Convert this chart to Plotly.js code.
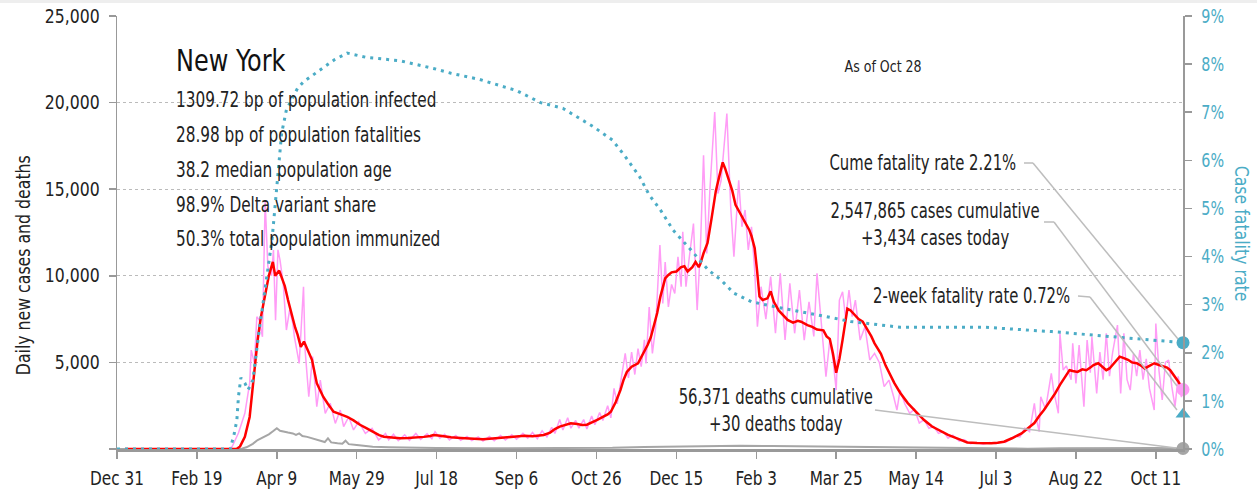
<!DOCTYPE html>
<html>
<head>
<meta charset="utf-8">
<script src="https://cdn.plot.ly/plotly-3.0.1.min.js"></script>
<style>
  html, body { margin: 0; padding: 0; background: #fff; }
  #chart { width: 1257px; height: 491px; }
</style>
</head>
<body>
<div id="chart"></div>
<script>
// Day offsets are counted from Dec 31, 2019 (day 0) to Oct 28, 2021 (day 667)
const tickDays = [0, 50, 100, 150, 200, 250, 300, 350, 400, 450, 500, 550, 600, 650];
const tickLabels = ["Dec 31", "Feb 19", "Apr 9", "May 29", "Jul 18", "Sep 6", "Oct 26", "Dec 15", "Feb 3", "Mar 25", "May 14", "Jul 3", "Aug 22", "Oct 11"];

const leftTickVals = [0, 5000, 10000, 15000, 20000, 25000];
const leftTickText = ["", "5,000", "10,000", "15,000", "20,000", "25,000"];
const rightTickVals = [0, 1, 2, 3, 4, 5, 6, 7, 8, 9];
const rightTickText = ["0%", "1%", "2%", "3%", "4%", "5%", "6%", "7%", "8%", "9%"];

// 7-day average of new cases (red)
const avgDays = [0,5,70,75,77,80,83,86,88,90,92,95,97.5,99,101.5,103,105,107,109.5,111.5,113,115,117,119,122,125,127,129,132,135.5,140,144,148,152,156,160,164,167,172,177,182,187,192,196,198,201,205,209,215,222,229,235,240,245,250,255,260,264,267,271,274,277,281,284,288,291,294,297,300.5,304,307,309,312,315,317,319,322,326,328,330,332,334,336,338,340,343,345,347,350,353,355,357,360,362,364,365,367,369.5,372,374.7,377,379,380.5,382,385,387,390,393,395.6,397,399,400.5,402,404,407,409,411,414,417,419.6,423,426,428,432,435,438,442,444,446,448,450,452,454,456,457,459,461,464,466.6,469,472,474,478,481,484,486.4,490,494.8,500,505,510,515,520,526,532,538,543,547,551,555,560,566,570,574,577,580,584,587,590,592,594,596,598,601,604,606.5,609,611,614,617,619,621,623,625,627.4,630,632.6,635,638,641,643,646,649,652,655,657,659,662,664,667];
const avgCases = [null,0,0,20,150,700,1850,4500,6300,7600,8600,10000,10800,10000,10300,9900,9400,8600,7650,7000,6600,5900,6200,5800,5150,3800,3400,3020,2600,2150,2000,1860,1650,1400,1210,1000,800,710,650,620,640,660,700,750,810,780,720,680,640,600,560,600,640,680,720,760,740,780,810,950,1150,1290,1400,1480,1440,1390,1400,1550,1680,1850,2000,2150,2700,3400,4000,4450,4750,4950,5300,5700,6000,6450,7100,7850,8800,9850,10050,10200,10250,10500,10550,10250,10500,10800,10500,10700,11300,11900,13300,14900,15800,16550,16200,15800,14900,14100,13600,13100,12650,12300,11600,10300,8800,8600,8700,9100,8500,8000,7700,7450,7300,7400,7350,7150,7050,6900,6850,6500,6350,5500,4400,5200,6300,7500,8100,8000,7800,7500,7350,7000,6500,6100,5500,4800,4200,3800,3250,2650,2150,1670,1300,1050,810,600,380,340,320,330,360,420,620,900,1200,1500,1900,2250,2800,3210,3700,3980,4300,4550,4500,4450,4600,4550,4700,4850,4950,4700,4550,4650,4850,5100,5330,5250,5150,5000,4950,4800,4650,4800,4950,4850,4750,4700,4550,4200,3900,3450];

// Daily new cases (pink)
const dailyDays = [0,60,66,70,72,74,76,80,83,84,86,87.5,89,91,92.7,94.4,96.7,97.9,99.2,100.7,102,104,106,108,110,111,114,116.7,117.7,120,122.4,125,127.2,130.3,133.4,136.6,139.7,141.8,145,148,151.2,155.4,159.6,163.7,168,170,173,176,180,183,187,190,194,197,199,202,205,208,212,215,219,222,226,229,233,236,240,243,247,250,254,257,260,263,266,269,272,274,277,279,282,284,287,289,292,294,297,299,302,304,307,309,311,313,316,318,320,322,324,326,328,330,331,333,335,337,339.7,341.5,343,345,347,349,351,353,354,356,358,360.7,363,365,367,369,371,374,376,378,381.6,384,386,389,391,393,395,397,399,400.7,403,406,409,412,415,418,421,424,427,430,433,436,438,441,443.6,446,448,450,452,454,456,458,460,462,465,468,471,474,477,480,483,486,488,490,493,496,499,502,505,508,511,514,517,520,523,527,530,534,538,542,546,550,553,556,559,562,565,568,571,574,575,577,578,581,583,584.6,586,589,590,592,594,597,598,600,602,605,607,609,610,613,615,617,619,621,623,626,628,630,632,634,636,638,640,642,644,646,649,650,652,654,656,658,660,662,664,666,667];
const dailyCases = [0,0,5,20,130,500,920,2060,3790,5710,4940,7640,7440,6480,14300,10520,10000,11490,7440,11500,10900,9560,6870,8020,7250,6480,4940,9370,5710,3020,5330,2440,3980,2060,2640,1480,2250,1290,1860,1100,1575,905,1190,520,900,520,850,480,820,500,900,550,880,600,1000,620,850,520,780,500,720,480,700,460,720,480,780,520,820,560,900,620,950,600,1050,700,1250,900,1700,1100,1800,1200,1650,1200,1700,1150,1900,1400,2100,1650,2500,1800,3500,2600,4400,5520,4100,5600,4300,5800,4750,6300,4940,8200,5520,7000,11770,8400,10800,8200,9500,8980,11100,9370,12540,9370,11000,13020,8020,11500,16960,11290,15000,19460,14750,15500,19370,13980,11100,15520,12830,13800,11490,12830,10330,7060,9370,7500,9950,6680,10140,6290,9560,6680,9180,6290,8500,6500,10140,6870,4170,6290,5200,3400,8600,9080,7500,9180,7640,8600,6290,7060,5140,5520,5000,3600,3980,3000,2250,3400,2600,2060,2300,1500,1700,1200,1300,900,1000,620,800,450,550,300,380,280,380,300,420,380,600,750,700,1200,1000,2640,1860,1000,3020,2300,3500,4370,3400,2060,6680,4560,4800,4000,6100,3790,6000,2440,6290,4400,6480,3210,5600,4000,6680,4200,5600,7150,3210,6680,4000,3400,5500,4200,5710,4000,5200,3500,2250,7250,4500,2830,5000,5140,3600,2440,4200,3000,3434];

// Daily deaths (gray)
const deathDays = [0,75,78,81,85,88,92,95,98,100,102,104,107,110,112,114,116,119,122,125,128,130,132,134,138,141,143,145,150,155,160,170,180,200,230,260,290,310,330,350,370,390,410,430,450,470,490,510,530,550,570,590,610,630,650,667];
const deaths = [0,0,20,100,300,520,700,850,1050,1200,1050,1000,950,900,820,900,750,700,620,520,450,400,620,380,330,300,480,280,230,180,130,100,80,60,40,40,50,70,120,150,180,190,170,150,130,110,80,50,30,20,20,40,60,70,60,30];

// Case fatality rate, % (blue dotted, right axis)
const cfrDays = [0,71,72,73,75,76,77.5,80,82,85,89,94,97,100,103,106,113,117,127,136,144,156,177,198,209,227,250,265,279,298,310,318,327,333,340,348,359,370,378,386,397,417,438,459,490,543,585,626,667];
const cfr = [0,0,0.15,0.26,0.6,1.09,1.48,1.37,1.23,1.43,2.47,3.65,4.35,5.45,6.56,7.05,7.5,7.64,7.88,8.09,8.23,8.14,8.07,7.91,7.81,7.68,7.45,7.2,7.08,6.7,6.42,6.08,5.66,5.28,4.97,4.55,4.14,3.72,3.51,3.24,3.06,2.92,2.79,2.65,2.53,2.53,2.44,2.33,2.21];

// Latest values (as of Oct 28)
const lastDay = 667;
const cumeFatalityRate = 2.21;
const twoWeekFatalityRate = 0.72;
const casesToday = 3434;
const deathsToday = 30;

const statLines = [
  "1309.72 bp of population infected",
  "28.98 bp of population fatalities",
  "38.2 median population age",
  "98.9% Delta variant share",
  "50.3% total population immunized"
];

const FONT = "'Liberation Sans Narrow', 'Arial Narrow', 'DejaVu Sans Condensed', sans-serif";
const TEAL = "#4bacc6";
const GRAYLINE = "#a6a6a6";
const LEADER = "#bdbdbd";

const traces = [
  { x: dailyDays, y: dailyCases, type: "scatter", mode: "lines", line: { color: "#ff9cf6", width: 1.5 }, hoverinfo: "skip" },
  { x: deathDays, y: deaths, type: "scatter", mode: "lines", line: { color: GRAYLINE, width: 2 }, hoverinfo: "skip" },
  { x: cfrDays, y: cfr, yaxis: "y2", type: "scatter", mode: "lines", line: { color: TEAL, width: 3, dash: "3px,5px" }, hoverinfo: "skip" },
  { x: avgDays, y: avgCases, type: "scatter", mode: "lines", line: { color: "#ff0000", width: 2.5 }, hoverinfo: "skip" },
  { x: [lastDay], y: [casesToday], type: "scatter", mode: "markers", marker: { color: "#ff9cf6", size: 13 }, cliponaxis: false },
  { x: [lastDay], y: [deathsToday], type: "scatter", mode: "markers", marker: { color: GRAYLINE, size: 13 }, cliponaxis: false },
  { x: [lastDay], y: [cumeFatalityRate], yaxis: "y2", type: "scatter", mode: "markers", marker: { color: TEAL, size: 13 }, cliponaxis: false },
  { x: [lastDay], y: [twoWeekFatalityRate], yaxis: "y2", type: "scatter", mode: "markers", marker: { color: TEAL, size: 13, symbol: "triangle-up" }, cliponaxis: false }
];

// paper helpers (plot area: x 117..1183, y 16..449 px)
const px = v => (v - 117) / 1066;
const py = v => (449 - v) / 433;

// horizontal squeeze factors to imitate the condensed typeface
const annSqueeze = [];
const annotations = [];
function addAnn(a, squeeze) { annotations.push(a); annSqueeze.push(squeeze); }

addAnn({ xref: "paper", yref: "paper", x: px(174), y: py(60), xanchor: "left", align: "left", yanchor: "middle", text: "New York", showarrow: false, font: { family: FONT, size: 31, color: "#111" } }, 0.86);
const statY = [100, 135, 170, 205, 239];
statLines.forEach((t, i) => {
  addAnn({ xref: "paper", yref: "paper", x: px(174), y: py(statY[i]), xanchor: "left", align: "left", yanchor: "middle", text: t, showarrow: false, font: { family: FONT, size: 21, color: "#222" } }, 0.81);
});
addAnn({ xref: "paper", yref: "paper", x: px(883), y: py(66), xanchor: "center", yanchor: "middle", text: "As of Oct 28", showarrow: false, font: { family: FONT, size: 16, color: "#222" } }, 0.875);
addAnn({ xref: "paper", yref: "paper", x: px(1018), y: py(163), xanchor: "right", align: "right", yanchor: "middle", text: "Cume fatality rate " + cumeFatalityRate.toFixed(2) + "%", showarrow: false, font: { family: FONT, size: 20.5, color: "#222" } }, 0.805);
addAnn({ xref: "paper", yref: "paper", x: px(935), y: py(224), xanchor: "center", yanchor: "middle", align: "center", text: "2,547,865 cases cumulative<br>+3,434 cases today", showarrow: false, font: { family: FONT, size: 20.5, color: "#222" } }, 0.805);
addAnn({ xref: "paper", yref: "paper", x: px(1072), y: py(296), xanchor: "right", align: "right", yanchor: "middle", text: "2-week fatality rate " + twoWeekFatalityRate.toFixed(2) + "%", showarrow: false, font: { family: FONT, size: 20.5, color: "#222" } }, 0.805);
addAnn({ xref: "paper", yref: "paper", x: px(776), y: py(410), xanchor: "center", yanchor: "middle", align: "center", text: "56,371 deaths cumulative<br>+30 deaths today", showarrow: false, font: { family: FONT, size: 20.5, color: "#222" } }, 0.805);
addAnn({ xref: "paper", yref: "paper", x: px(23), y: py(265), xanchor: "center", yanchor: "middle", textangle: -90, text: "Daily new cases and deaths", showarrow: false, font: { family: FONT, size: 20, color: "#222" } }, 0.875);
addAnn({ xref: "paper", yref: "paper", x: px(1242), y: py(233), xanchor: "center", yanchor: "middle", textangle: 90, text: "Case fatality rate", showarrow: false, font: { family: FONT, size: 20, color: TEAL } }, 0.875);

const seg = (x0, y0, x1, y1) => ({ type: "line", xref: "paper", yref: "paper", x0: px(x0), y0: py(y0), x1: px(x1), y1: py(y1), line: { color: LEADER, width: 1.5 } });
const shapes = [
  { type: "rect", xref: "paper", yref: "paper", x0: px(0), x1: px(1257), y0: py(3), y1: py(0), fillcolor: "#eeeeee", line: { width: 0 }, layer: "below" },
  seg(1024, 163, 1033, 163), seg(1033, 163, 1178, 339),
  seg(1044, 222, 1054, 222), seg(1054, 222, 1177, 386),
  seg(1078, 296, 1090, 297), seg(1090, 297, 1177, 410),
  seg(875, 410, 1176, 448)
];

const layout = {
  width: 1257, height: 491,
  margin: { l: 117, r: 74, t: 16, b: 42, pad: 0 },
  paper_bgcolor: "#fff", plot_bgcolor: "#fff",
  showlegend: false,
  font: { family: FONT, size: 19, color: "#222" },
  xaxis: {
    range: [0, 667], tickvals: tickDays, ticktext: tickLabels,
    ticks: "outside", ticklen: 7, tickcolor: "#999", tickwidth: 1.5,
    showline: true, linecolor: "#999", linewidth: 2.5,
    showgrid: false, zeroline: false, fixedrange: true,
    ticklabelstandoff: 3,
    tickfont: { family: FONT, size: 20, color: "#222" }
  },
  yaxis: {
    range: [0, 25000], tickvals: leftTickVals, ticktext: leftTickText,
    ticks: "outside", ticklen: 7, tickcolor: "#999", tickwidth: 1.5,
    showline: true, linecolor: "#999", linewidth: 1.5,
    showgrid: true, gridcolor: "#bbbbbb", griddash: "dot", gridwidth: 1,
    zeroline: false, fixedrange: true,
    ticklabelstandoff: 5,
    tickfont: { family: FONT, size: 19, color: "#222" }
  },
  yaxis2: {
    overlaying: "y", side: "right",
    range: [0, 9], tickvals: rightTickVals, ticktext: rightTickText,
    ticks: "outside", ticklen: 7, tickcolor: "#999", tickwidth: 1.5,
    showline: true, linecolor: "#999", linewidth: 1.5,
    showgrid: false, zeroline: false, fixedrange: true,
    ticklabelstandoff: 6,
    tickfont: { family: FONT, size: 19, color: TEAL }
  },
  annotations: annotations,
  shapes: shapes
};

function squeeze(el, s) {
  const x = parseFloat(el.getAttribute("x")) || 0;
  const prev = el.getAttribute("transform") || "";
  el.setAttribute("transform", (prev + " translate(" + x + ",0) scale(" + s + ",1) translate(" + (-x) + ",0)").trim());
}

Plotly.newPlot("chart", traces, layout, { displayModeBar: false, staticPlot: true }).then(gd => {
  gd.querySelectorAll("g.annotation").forEach((g, i) => {
    const t = g.querySelector("text.annotation-text");
    if (t && annSqueeze[i]) squeeze(t, annSqueeze[i]);
  });
  gd.querySelectorAll("g.xtick text").forEach(t => squeeze(t, 0.85));
  gd.querySelectorAll("g.ytick text").forEach(t => squeeze(t, 0.92));
  gd.querySelectorAll("g.y2tick text").forEach(t => squeeze(t, 0.84));
});
</script>
</body>
</html>
